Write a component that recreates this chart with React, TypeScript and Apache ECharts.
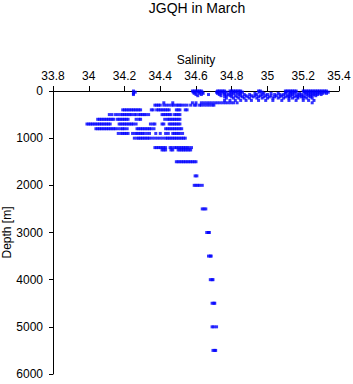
import React, { useEffect, useRef } from "react";
import * as echarts from "echarts";

// Salinity ticks / depth ticks
const SALINITY_MIN = 33.8;
const SALINITY_MAX = 35.4;
const DEPTH_MAX = 6000;

// Salinity readings at each sampled depth (m)
const s0 = [34.25, 34.58, 34.59, 34.6, 34.61, 34.62, 34.63, 34.72, 34.73, 34.74, 34.75, 34.76, 34.79, 34.8, 34.81, 34.82, 34.83, 34.84, 34.85, 34.95, 34.96, 35.1, 35.11, 35.12, 35.13, 35.14, 35.15, 35.16, 35.2, 35.21, 35.22, 35.23, 35.24, 35.25, 35.26, 35.27, 35.28, 35.29, 35.3, 35.31, 35.32, 35.33];
const s25 = [34.26, 34.585, 34.6, 34.615, 34.635, 34.715, 34.73, 34.75, 34.77, 34.8, 34.82, 34.845, 34.86, 34.955, 34.97, 35.105, 35.125, 35.14, 35.16, 35.205, 35.22, 35.24, 35.26, 35.28, 35.3, 35.32, 35.34];
const s50 = [34.25, 34.59, 34.62, 34.64, 34.72, 34.74, 34.76, 34.79, 34.81, 34.83, 34.85, 34.93, 34.98, 35.02, 35.06, 35.1, 35.13, 35.15, 35.18, 35.21, 35.23, 35.25, 35.27, 35.29, 35.31, 35.33];
const s75 = [34.25, 34.6, 34.63, 34.67, 34.73, 34.76, 34.78, 34.8, 34.84, 34.87, 34.9, 34.94, 34.97, 35.0, 35.04, 35.07, 35.09, 35.12, 35.14, 35.17, 35.19, 35.22, 35.24, 35.26, 35.28, 35.3];
const s100 = [34.61, 34.74, 34.77, 34.79, 34.82, 34.85, 34.88, 34.91, 34.93, 34.96, 34.99, 35.02, 35.05, 35.08, 35.11, 35.13, 35.16, 35.18, 35.2, 35.23, 35.25, 35.27];
const s125 = [34.76, 34.8, 34.83, 34.86, 34.89, 34.92, 34.95, 34.98, 35.01, 35.04, 35.07, 35.1, 35.12, 35.15, 35.17, 35.19, 35.21, 35.24];
const s150 = [34.77, 34.81, 34.84, 34.87, 34.9, 34.94, 34.97, 35.0, 35.03, 35.06, 35.09, 35.12, 35.14, 35.17, 35.2, 35.22, 35.25];
const s200 = [34.76, 34.79, 34.82, 34.85, 34.88, 34.91, 34.95, 34.99, 35.03, 35.08, 35.12, 35.16, 35.2, 35.23, 35.26];
const s250 = [34.42, 34.47, 34.58, 34.6, 34.63, 34.645, 34.66, 34.675, 34.69, 34.705, 34.72, 34.735, 34.75, 34.765, 34.78, 34.795, 34.81, 34.83, 35.25];
const s300 = [34.37, 34.38, 34.39, 34.4, 34.42, 34.435, 34.45, 34.465, 34.475, 34.49, 34.5, 34.51, 34.52, 34.535, 34.55, 34.57, 34.59, 34.6, 34.62, 34.63, 34.645, 34.66, 34.675, 34.69, 34.7];
const s400 = [34.19, 34.2, 34.21, 34.22, 34.23, 34.24, 34.25, 34.26, 34.27, 34.28, 34.29, 34.35, 34.36, 34.38, 34.39, 34.4, 34.41, 34.42, 34.43, 34.44, 34.45, 34.49, 34.5, 34.51, 34.54, 34.55];
const s500 = [34.115, 34.13, 34.15, 34.165, 34.18, 34.19, 34.2, 34.21, 34.22, 34.23, 34.24, 34.255, 34.265, 34.28, 34.29, 34.3, 34.31, 34.32, 34.335, 34.41, 34.42, 34.43, 34.44, 34.45, 34.46, 34.48, 34.49, 34.5, 34.51];
const s600 = [34.05, 34.06, 34.07, 34.08, 34.09, 34.1, 34.11, 34.12, 34.13, 34.14, 34.16, 34.17, 34.18, 34.19, 34.2, 34.21, 34.22, 34.265, 34.28, 34.29, 34.425, 34.44, 34.45, 34.46, 34.47, 34.48, 34.49, 34.5, 34.51];
const s700 = [33.99, 34.0, 34.01, 34.02, 34.03, 34.04, 34.05, 34.06, 34.07, 34.08, 34.09, 34.1, 34.11, 34.12, 34.17, 34.18, 34.19, 34.2, 34.21, 34.22, 34.23, 34.24, 34.25, 34.265, 34.345, 34.36, 34.37, 34.41, 34.42, 34.45, 34.46, 34.47, 34.48, 34.49, 34.5, 34.51];
const s800 = [34.04, 34.05, 34.06, 34.07, 34.08, 34.09, 34.1, 34.11, 34.12, 34.13, 34.14, 34.15, 34.165, 34.18, 34.19, 34.2, 34.215, 34.27, 34.28, 34.29, 34.3, 34.31, 34.32, 34.33, 34.34, 34.35, 34.365, 34.43, 34.44, 34.45, 34.46, 34.47, 34.48, 34.49, 34.5, 34.51, 34.52];
const s900 = [34.165, 34.18, 34.19, 34.2, 34.21, 34.22, 34.245, 34.26, 34.27, 34.28, 34.29, 34.3, 34.31, 34.325, 34.34, 34.375, 34.4, 34.43, 34.445, 34.47, 34.48, 34.49, 34.5, 34.51, 34.525];
const s1000 = [34.255, 34.27, 34.28, 34.29, 34.3, 34.31, 34.32, 34.33, 34.34, 34.355, 34.37, 34.385, 34.4, 34.415, 34.43, 34.44, 34.45, 34.46, 34.47, 34.48, 34.49, 34.5, 34.51, 34.52, 34.53, 34.54];
const s1200 = [34.37, 34.38, 34.39, 34.4, 34.41, 34.42, 34.43, 34.455, 34.465, 34.48, 34.49, 34.5, 34.51, 34.52, 34.53, 34.54, 34.55, 34.56, 34.575];
const s1250 = [34.41, 34.42, 34.43, 34.46, 34.47, 34.5, 34.51, 34.52, 34.53, 34.54, 34.55, 34.56, 34.57];
const s1500 = [34.49, 34.5, 34.51, 34.52, 34.53, 34.54, 34.55, 34.56, 34.57, 34.58, 34.59, 34.6];
const s1800 = [34.595, 34.605];
const s2000 = [34.59, 34.6, 34.61, 34.62, 34.635];
const s2500 = [34.635, 34.645, 34.655];
const s3000 = [34.66, 34.67, 34.675];
const s3500 = [34.67, 34.68, 34.685];
const s4000 = [34.68, 34.69, 34.695];
const s4500 = [34.69, 34.7, 34.705];
const s5000 = [34.69, 34.7, 34.715];
const s5500 = [34.695, 34.705, 34.71];

const DEPTHS = [0, 25, 50, 75, 100, 125, 150, 200, 250, 300, 400, 500, 600, 700, 800, 900, 1000, 1200, 1250, 1500, 1800, 2000, 2500, 3000, 3500, 4000, 4500, 5000, 5500];
const SALINITY_LISTS = [s0, s25, s50, s75, s100, s125, s150, s200, s250, s300, s400, s500, s600, s700, s800, s900, s1000, s1200, s1250, s1500, s1800, s2000, s2500, s3000, s3500, s4000, s4500, s5000, s5500];

export default function App() {
  const ref = useRef<HTMLDivElement>(null);
  useEffect(() => {
    if (!ref.current) return;
    const chart = echarts.init(ref.current, null, { renderer: "svg" });
    const data: number[][] = [];
    DEPTHS.forEach((d, i) => {
      SALINITY_LISTS[i].forEach((s) => data.push([s, d]));
    });
    const font = "Liberation Sans, Arial, sans-serif";
    chart.setOption({
      animation: false,
      backgroundColor: "#ffffff",
      title: {
        text: "JGQH in March",
        left: 196,
        textAlign: "center",
        top: 0,
        padding: 1,
        textStyle: { fontFamily: font, fontSize: 14, fontWeight: "normal", color: "#000" },
      },
      grid: { left: 53, right: 14, top: 91, bottom: 10, containLabel: false, outerBoundsMode: "none" },
      xAxis: {
        type: "value",
        position: "top",
        min: SALINITY_MIN,
        max: SALINITY_MAX,
        interval: 0.2,
        name: "Salinity",
        nameLocation: "middle",
        nameGap: 25,
        nameMoveOverlap: false,
        nameTextStyle: { fontFamily: font, fontSize: 12, color: "#000" },
        axisLine: { show: true, onZero: false, lineStyle: { color: "#000", width: 1 } },
        axisTick: { show: true, length: 5, lineStyle: { color: "#000" } },
        axisLabel: {
          fontFamily: font,
          fontSize: 12,
          color: "#000",
          margin: 9,
          hideOverlap: false,
          showMinLabel: true,
          showMaxLabel: true,
          formatter: (v: number) => String(Math.round(v * 10) / 10),
        },
        splitLine: { show: false },
      },
      yAxis: {
        type: "value",
        inverse: true,
        min: 0,
        max: DEPTH_MAX,
        interval: 1000,
        name: "Depth [m]",
        nameLocation: "middle",
        nameGap: 40,
        nameMoveOverlap: false,
        nameTextStyle: { fontFamily: font, fontSize: 12, color: "#000" },
        axisLine: { show: true, onZero: false, lineStyle: { color: "#000", width: 1 } },
        axisTick: { show: true, length: 4, lineStyle: { color: "#000" } },
        axisLabel: {
          fontFamily: font,
          fontSize: 12,
          color: "#000",
          margin: 10,
          showMinLabel: true,
          showMaxLabel: true,
          formatter: (v: number) => String(v),
        },
        splitLine: { show: false },
      },
      series: [
        {
          type: "scatter",
          data,
          symbol: "rect",
          symbolSize: [3, 3],
          itemStyle: { color: "#0000ff" },
          silent: true,
        },
      ],
    });
    return () => chart.dispose();
  }, []);
  return (
    <div
      ref={ref}
      style={{ position: "fixed", left: 0, top: 0, width: 353, height: 384, overflow: "hidden" }}
    />
  );
}
